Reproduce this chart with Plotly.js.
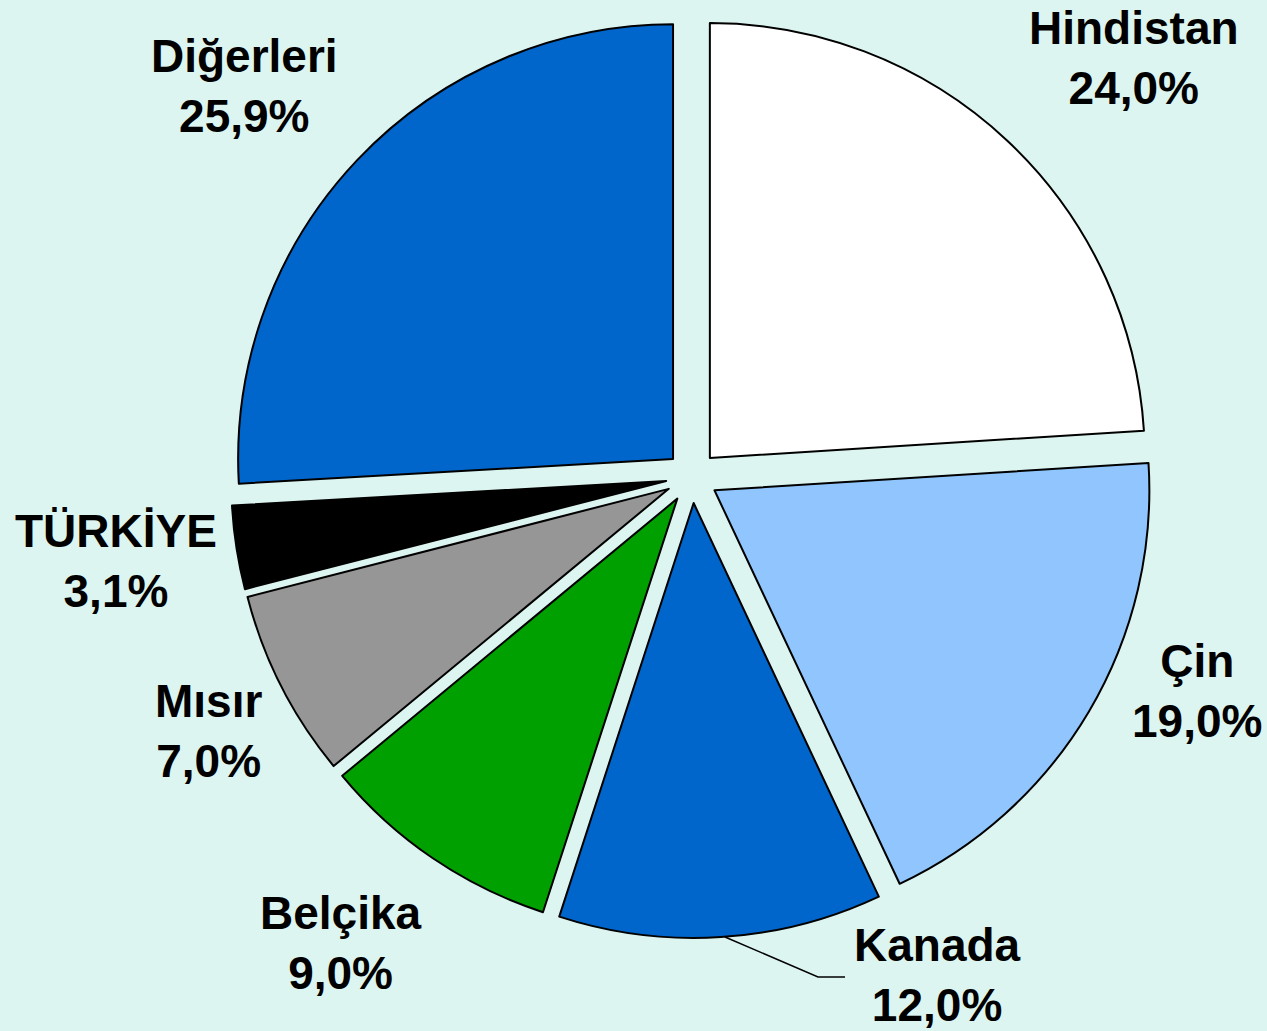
<!DOCTYPE html>
<html>
<head>
<meta charset="utf-8">
<script src="https://cdn.plot.ly/plotly-3.0.1.min.js"></script>
<style>html,body{margin:0;padding:0;background:#dcf5f0;}</style>
</head>
<body>
<div id="chart" style="width:1267px;height:1031px;"></div>
<script>
// Data
const labels = ["Hindistan", "Çin", "Kanada", "Belçika", "Mısır", "TÜRKİYE", "Diğerleri"];
const values = [24.0, 19.0, 12.0, 9.0, 7.0, 3.1, 25.9];
const colors = ["#ffffff", "#90c6fd", "#0066cc", "#00a000", "#969696", "#000000", "#0066cc"];

// Label placement (paper coords, pixel-based)
const W = 1267, H = 1031;
const labelPx = [
  [1134, 58], [1197, 691], [937, 975], [341, 943], [208, 731], [116, 561], [244, 86]
];

function fmt(v) { return v.toFixed(1).replace('.', ',') + '%'; }

const trace = {
  type: 'pie',
  labels: labels,
  values: values,
  sort: false,
  direction: 'clockwise',
  rotation: 0,
  pull: 0.06,
  textinfo: 'none',
  hoverinfo: 'label+percent',
  marker: { colors: colors, line: { color: '#000000', width: 2 } },
  domain: { x: [231 / W, 1153 / W], y: [1 - 938 / H, 1 - 16 / H] },
  showlegend: false
};

const annotations = labels.map((lab, i) => ({
  xref: 'paper', yref: 'paper',
  x: labelPx[i][0] / W, y: 1 - labelPx[i][1] / H,
  xanchor: 'center', yanchor: 'middle',
  text: lab + '<br>' + fmt(values[i]),
  showarrow: false,
  font: { family: 'Liberation Sans, Arial, sans-serif', size: 46, color: '#000000', weight: 'bold' }
}));

const leader = [[725, 937], [818, 977], [845, 977]];
const path = leader.map((p, i) => (i ? 'L' : 'M') + (p[0] / W) + ',' + (1 - p[1] / H)).join(' ');

const layout = {
  width: W, height: H,
  margin: { l: 0, r: 0, t: 0, b: 0 },
  paper_bgcolor: '#dcf5f0',
  plot_bgcolor: '#dcf5f0',
  annotations: annotations,
  shapes: [{ type: 'path', xref: 'paper', yref: 'paper', path: path, line: { color: '#000000', width: 1.5 } }]
};

Plotly.newPlot('chart', [trace], layout, { displayModeBar: false, staticPlot: true });
</script>
</body>
</html>
